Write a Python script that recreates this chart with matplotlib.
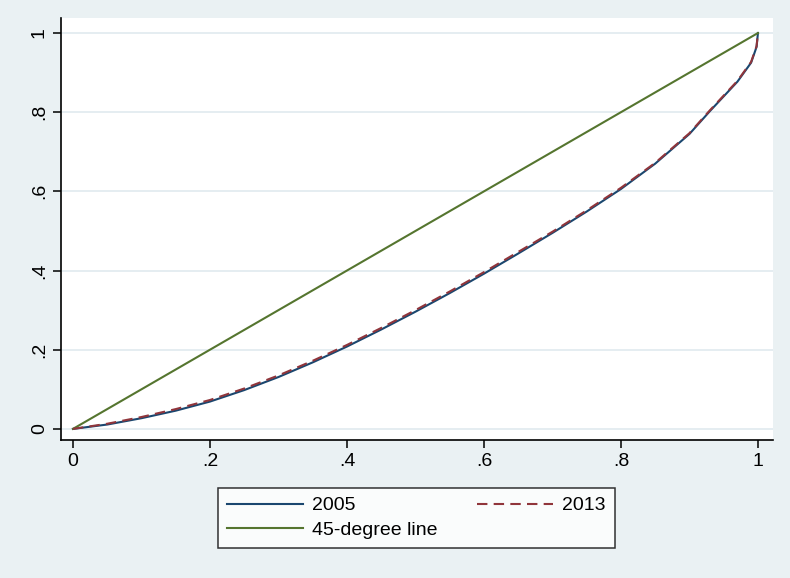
import matplotlib.pyplot as plt

# Lorenz curve data
share_pop = [0.0, 0.05, 0.10, 0.15, 0.20, 0.25, 0.30, 0.35, 0.40, 0.45, 0.50,
             0.55, 0.60, 0.65, 0.70, 0.75, 0.80, 0.85, 0.90, 0.93, 0.95,
             0.97, 0.99, 0.998, 1.0]
lorenz_2005 = [0.0, 0.011, 0.027, 0.046, 0.069, 0.098, 0.131, 0.168, 0.208,
               0.251, 0.296, 0.343, 0.392, 0.443, 0.495, 0.549, 0.606, 0.670,
               0.745, 0.803, 0.840, 0.877, 0.925, 0.965, 1.0]
lorenz_2013 = [0.0, 0.013, 0.030, 0.050, 0.073, 0.102, 0.135, 0.172, 0.212,
               0.255, 0.300, 0.347, 0.396, 0.447, 0.498, 0.552, 0.609, 0.672,
               0.747, 0.805, 0.842, 0.879, 0.927, 0.967, 1.0]
diag = [0.0, 1.0]

ticks = [0, 0.2, 0.4, 0.6, 0.8, 1]
tick_labels = ["0", ".2", ".4", ".6", ".8", "1"]

BG = "#EAF1F3"
GRID = "#E3ECF0"

plt.rcParams['font.family'] = ['Liberation Sans', 'DejaVu Sans']

fig = plt.figure(figsize=(7.9, 5.78), dpi=100, facecolor=BG)
ax = fig.add_axes([0.0772, 0.2388, 0.9013, 0.7301])
ax.set_facecolor("white")

ax.plot(share_pop, lorenz_2005, color="#1a476f", lw=1.5, label="2005", zorder=3)
ax.plot(diag, diag, color="#55752f", lw=1.5, label="45-degree line", zorder=3)
ax.plot(share_pop, lorenz_2013, color="#90353b", lw=1.5, ls=(0, (5, 3)),
        label="2013", zorder=4)

ax.set_xlim(-0.0175, 1.022)
ax.set_ylim(-0.028, 1.038)
ax.set_xticks(ticks)
ax.set_xticklabels(tick_labels)
ax.set_yticks(ticks)
ax.set_yticklabels(tick_labels, rotation=90, va="center")

ax.yaxis.grid(True, color=GRID, lw=1.3)
ax.xaxis.grid(False)
ax.set_axisbelow(True)

for side in ["top", "right"]:
    ax.spines[side].set_visible(False)
for side in ["left", "bottom"]:
    ax.spines[side].set_linewidth(1.2)
ax.tick_params(direction="out", length=5.5, width=1.1, labelsize=14, pad=4)

leg = ax.legend(ncol=2, loc="center", bbox_to_anchor=(0.527, 0.104),
                bbox_transform=fig.transFigure, fontsize=14, frameon=True,
                fancybox=False, edgecolor="black", handlelength=3.9,
                handletextpad=0.5, columnspacing=2.0, labelspacing=0.35,
                borderpad=0.45)
leg.get_frame().set_linewidth(1.1)

fig.savefig("out.png", dpi=100, facecolor=BG)
